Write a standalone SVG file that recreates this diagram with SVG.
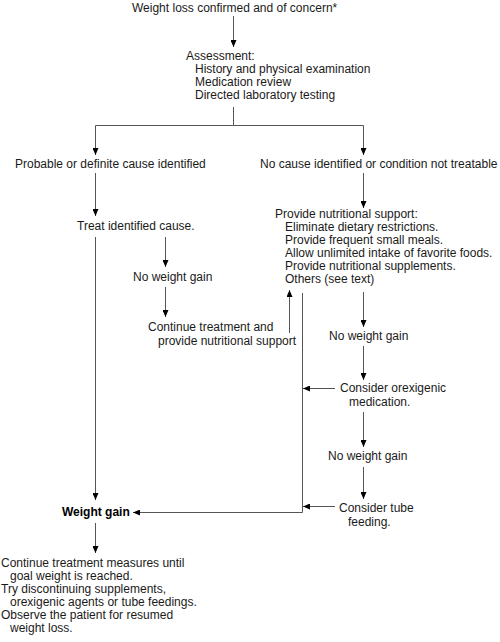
<svg xmlns="http://www.w3.org/2000/svg" width="500" height="642" viewBox="0 0 500 642">
<defs>
<style>
text{font-family:"Liberation Sans",Arial,sans-serif;font-size:12px;fill:#1a1a1a}
.b{font-weight:bold;fill:#000}
.c{fill:none;stroke:#555;stroke-width:1}
</style>
<marker id="ah" viewBox="0 0 7 6" refX="7" refY="3" markerWidth="7" markerHeight="6" orient="auto" markerUnits="userSpaceOnUse"><path d="M0,0 L7,3 L0,6 z" fill="#000"/></marker>
</defs>
<rect width="500" height="642" fill="#fff"/>
<g id="connectors">
<path class="c" d="M233.5,16 V47" marker-end="url(#ah)"/>
<path class="c" d="M233.5,107 V125.5 H95.5 V155" marker-end="url(#ah)"/>
<path class="c" d="M233.5,125.5 H363.5 V155" marker-end="url(#ah)"/>
<path class="c" d="M95.5,173 V216" marker-end="url(#ah)"/>
<path class="c" d="M363.5,173 V208" marker-end="url(#ah)"/>
<path class="c" d="M95.5,237 V500" marker-end="url(#ah)"/>
<path class="c" d="M165.5,237 V267" marker-end="url(#ah)"/>
<path class="c" d="M165.5,287 V317" marker-end="url(#ah)"/>
<path class="c" d="M289.5,333 V290" marker-end="url(#ah)"/>
<path class="c" d="M302.5,293 V512.5 H133" marker-end="url(#ah)"/>
<path class="c" d="M363.5,292 V327" marker-end="url(#ah)"/>
<path class="c" d="M363.5,346 V380" marker-end="url(#ah)"/>
<path class="c" d="M363.5,412 V447" marker-end="url(#ah)"/>
<path class="c" d="M363.5,467 V499" marker-end="url(#ah)"/>
<path class="c" d="M335,388.5 H303" marker-end="url(#ah)"/>
<path class="c" d="M335,506.5 H303" marker-end="url(#ah)"/>
<path class="c" d="M95.5,523 V553" marker-end="url(#ah)"/>
</g>
<g id="n-start"><text x="132" y="12">Weight loss confirmed and of concern*</text></g>
<g id="n-assessment">
<text x="186" y="60">Assessment:</text>
<text x="195" y="73">History and physical examination</text>
<text x="195" y="86">Medication review</text>
<text x="195" y="99">Directed laboratory testing</text>
</g>
<g id="n-cause"><text x="15" y="168">Probable or definite cause identified</text></g>
<g id="n-nocause"><text x="260" y="168">No cause identified or condition not treatable</text></g>
<g id="n-treat"><text x="77" y="230">Treat identified cause.</text></g>
<g id="n-nogain1"><text x="133" y="281">No weight gain</text></g>
<g id="n-continue">
<text x="148" y="331">Continue treatment and</text>
<text x="158" y="345">provide nutritional support</text>
</g>
<g id="n-support">
<text x="275" y="218">Provide nutritional support:</text>
<text x="285" y="231">Eliminate dietary restrictions.</text>
<text x="285" y="244">Provide frequent small meals.</text>
<text x="285" y="257">Allow unlimited intake of favorite foods.</text>
<text x="285" y="270">Provide nutritional supplements.</text>
<text x="285" y="283">Others (see text)</text>
</g>
<g id="n-nogain2"><text x="329" y="340">No weight gain</text></g>
<g id="n-orexigenic">
<text x="340" y="392">Consider orexigenic</text>
<text x="349" y="406">medication.</text>
</g>
<g id="n-nogain3"><text x="328" y="460">No weight gain</text></g>
<g id="n-tube">
<text x="339" y="512">Consider tube</text>
<text x="348" y="526">feeding.</text>
</g>
<g id="n-gain"><text class="b" x="62" y="516">Weight gain</text></g>
<g id="n-final">
<text x="1" y="567">Continue treatment measures until</text>
<text x="10" y="580">goal weight is reached.</text>
<text x="1" y="593">Try discontinuing supplements,</text>
<text x="10" y="606">orexigenic agents or tube feedings.</text>
<text x="1" y="619">Observe the patient for resumed</text>
<text x="10" y="632">weight loss.</text>
</g>
</svg>
